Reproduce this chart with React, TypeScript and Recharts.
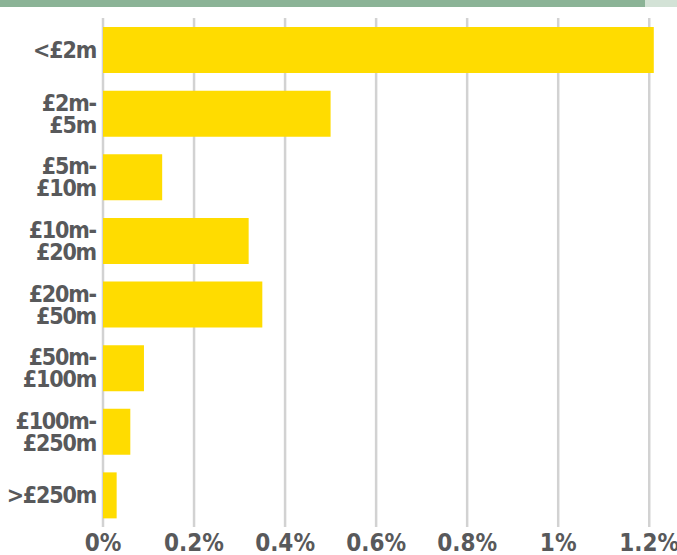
import React from 'react';
import { BarChart, Bar, XAxis, YAxis, CartesianGrid } from 'recharts';

// turnover bands (label lines split on \n)
const bands = [
  '<£2m',
  '£2m-\n£5m',
  '£5m-\n£10m',
  '£10m-\n£20m',
  '£20m-\n£50m',
  '£50m-\n£100m',
  '£100m-\n£250m',
  '>£250m',
];
const rates = [1.21, 0.5, 0.13, 0.32, 0.35, 0.09, 0.06, 0.03];
const xTicks = [0, 0.2, 0.4, 0.6, 0.8, 1, 1.2];
const X_MAX = 1.25;

const FONT = '"DejaVu Sans Condensed", "DejaVu Sans", sans-serif';
const GREY = '#58595b';

const data = bands.map((band, i) => ({ band, rate: rates[i] }));

const BandTick = (props: any) => {
  const { x, y, payload } = props;
  const lines = String(payload.value).split('\n');
  const lh = 22;
  const start = -((lines.length - 1) * lh) / 2;
  return (
    <text
      x={x}
      y={y}
      textAnchor="end"
      fill={GREY}
      fontFamily={FONT}
      fontWeight={700}
      fontSize={23}
      letterSpacing={-1.2}
    >
      {lines.map((l, i) => (
        <tspan key={i} x={x} y={y + start + i * lh} dy="0.36em">
          {l}
        </tspan>
      ))}
    </text>
  );
};

// only draw grid lines at the labelled ticks, not at the domain edge
const gridX = ({ offset }: any) =>
  xTicks.map((t) => offset.left + (t / X_MAX) * offset.width);

export default function App() {
  return (
    <div style={{ position: 'fixed', left: 0, top: 0, width: 677, height: 555, background: '#fff' }}>
      <div style={{ position: 'absolute', left: 0, top: 0, width: 645, height: 7, background: '#8bb396' }} />
      <div style={{ position: 'absolute', left: 645, top: 0, width: 32, height: 7, background: '#d3e2d6' }} />
      <BarChart
        width={677}
        height={555}
        layout="vertical"
        data={data}
        margin={{ top: 18, right: 5, bottom: 0, left: 0 }}
      >
        <CartesianGrid
          horizontal={false}
          stroke="#d2d2d2"
          strokeWidth={2.5}
          verticalCoordinatesGenerator={gridX}
        />
        <XAxis
          type="number"
          domain={[0, X_MAX]}
          ticks={xTicks}
          axisLine={false}
          tickLine={false}
          height={28}
          tickMargin={1}
          tickFormatter={(v: number) => `${v}%`}
          tick={{ fill: GREY, fontFamily: FONT, fontWeight: 700, fontSize: 24 }}
        />
        <YAxis
          type="category"
          dataKey="band"
          width={103}
          axisLine={false}
          tickLine={false}
          tickMargin={1}
          interval={0}
          tick={<BandTick />}
        />
        <Bar dataKey="rate" fill="#ffdc00" barSize={46} isAnimationActive={false} />
      </BarChart>
    </div>
  );
}
